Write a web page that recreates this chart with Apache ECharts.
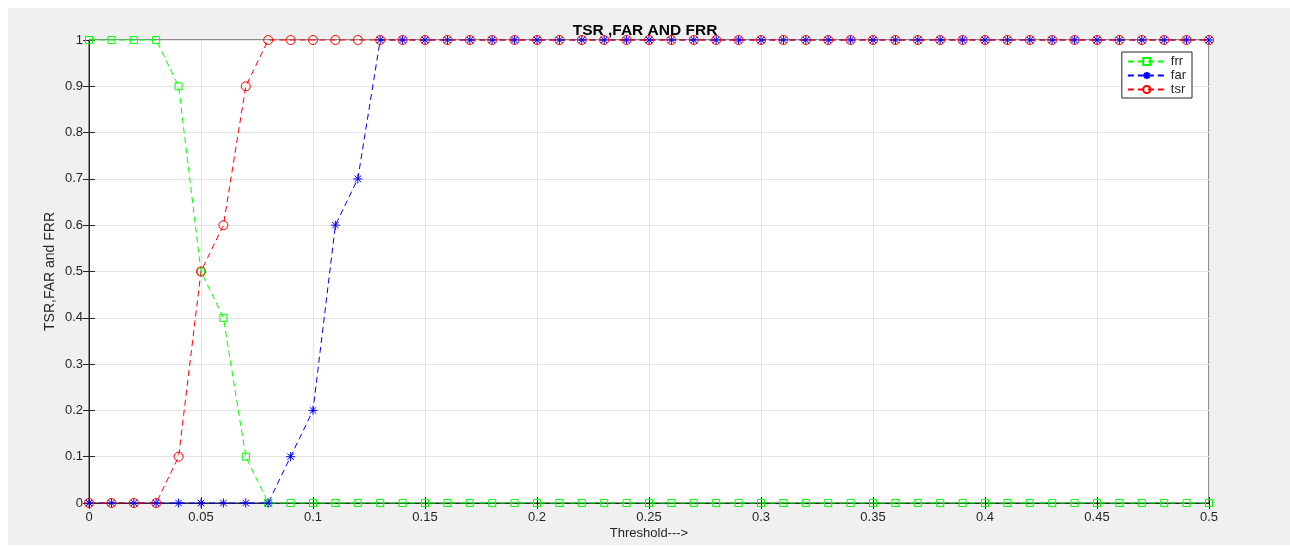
<!DOCTYPE html>
<html>
<head>
<meta charset="utf-8">
<script src="https://cdn.jsdelivr.net/npm/echarts@6/dist/echarts.min.js"></script>
<style>html,body{margin:0;padding:0;background:#fff}#c{width:1290px;height:547px}</style>
</head>
<body>
<div id="c"></div>
<script>
var thresholds = [0,0.01,0.02,0.03,0.04,0.05,0.06,0.07,0.08,0.09,0.1,0.11,0.12,0.13,0.14,0.15,0.16,0.17,0.18,0.19,0.2,0.21,0.22,0.23,0.24,0.25,0.26,0.27,0.28,0.29,0.3,0.31,0.32,0.33,0.34,0.35,0.36,0.37,0.38,0.39,0.4,0.41,0.42,0.43,0.44,0.45,0.46,0.47,0.48,0.49,0.5];
var frr = [1,1,1,1,0.9,0.5,0.4,0.1,0,0,0,0,0,0,0,0,0,0,0,0,0,0,0,0,0,0,0,0,0,0,0,0,0,0,0,0,0,0,0,0,0,0,0,0,0,0,0,0,0,0,0];
var far = [0,0,0,0,0,0,0,0,0,0.1,0.2,0.6,0.7,1,1,1,1,1,1,1,1,1,1,1,1,1,1,1,1,1,1,1,1,1,1,1,1,1,1,1,1,1,1,1,1,1,1,1,1,1,1];
var tsr = [0,0,0,0,0.1,0.5,0.6,0.9,1,1,1,1,1,1,1,1,1,1,1,1,1,1,1,1,1,1,1,1,1,1,1,1,1,1,1,1,1,1,1,1,1,1,1,1,1,1,1,1,1,1,1];
var seriesNames = ['frr','far','tsr'];
var titleText = 'TSR ,FAR AND FRR';
var xName = 'Threshold--->';
var yName = 'TSR,FAR and FRR';

function pairs(ys){ return thresholds.map(function(x,i){ return [x, ys[i]]; }); }
var fontFam = '"Liberation Sans", Arial, sans-serif';
var axisCol = '#262626';
var star = 'path://M0,-1L0,1M-1,0L1,0M-0.72,-0.72L0.72,0.72M-0.72,0.72L0.72,-0.72';

function mkSeries(name, data, color, symbol, size){
  return {
    name: name, type: 'line', data: pairs(data), clip: false,
    symbol: symbol, symbolSize: size, showAllSymbol: true,
    lineStyle: {color: color, width: 1, type: [6,4]},
    itemStyle: {color: 'rgba(0,0,0,0)', borderColor: color, borderWidth: 1},
    emphasis: {disabled: true}, animation: false
  };
}

var chart = echarts.init(document.getElementById('c'), null, {renderer: 'canvas'});
var fmt = function(v){ return String(parseFloat(v.toFixed(2))); };
chart.setOption({
  backgroundColor: '#ffffff',
  animation: false,
  graphic: [{type: 'rect', shape: {x: 8, y: 8, width: 1282, height: 537}, style: {fill: '#f0f0f0'}, z: -100, silent: true}],
  title: {text: titleText, left: 'center', top: 18,
    textStyle: {fontFamily: fontFam, fontSize: 15.5, fontWeight: 'bold', color: '#000'}},
  grid: {left: 89, right: 81, top: 40, bottom: 44, show: true, backgroundColor: '#fff', borderColor: axisCol, borderWidth: 1,
    containLabel: false, outerBoundsMode: 'none'},
  legend: {
    data: seriesNames, orient: 'vertical', right: 98, top: 52,
    itemWidth: 38, itemHeight: 9, itemGap: 1, padding: [3, 6, 2, 5],
    backgroundColor: '#fff', borderColor: axisCol, borderWidth: 1, borderRadius: 0,
    textStyle: {fontFamily: fontFam, fontSize: 13, color: axisCol}
  },
  xAxis: [{
    type: 'value', min: 0, max: 0.5, interval: 0.05,
    name: xName, nameLocation: 'middle', nameGap: 24, nameMoveOverlap: false,
    nameTextStyle: {fontFamily: fontFam, fontSize: 13, color: axisCol},
    axisLine: {show: true, onZero: false, lineStyle: {color: axisCol}},
    axisTick: {show: true, inside: true, length: 6, lineStyle: {color: axisCol}},
    axisLabel: {formatter: fmt, margin: 8, fontFamily: fontFam, fontSize: 13, color: axisCol},
    splitLine: {show: true, lineStyle: {color: '#e3e3e3'}}
  }, {
    type: 'value', min: 0, max: 0.5, interval: 0.05, position: 'top',
    axisLine: {show: true, lineStyle: {color: axisCol}},
    axisTick: {show: true, inside: true, length: 6, lineStyle: {color: axisCol}},
    axisLabel: {show: false}, splitLine: {show: false}
  }],
  yAxis: [{
    type: 'value', min: 0, max: 1, interval: 0.1,
    name: yName, nameLocation: 'middle', nameGap: 32, nameMoveOverlap: false,
    nameTextStyle: {fontFamily: fontFam, fontSize: 14, color: axisCol},
    axisLine: {show: true, onZero: false, lineStyle: {color: axisCol}},
    axisTick: {show: true, inside: true, length: 6, lineStyle: {color: axisCol}},
    axisLabel: {formatter: fmt, margin: 6, fontFamily: fontFam, fontSize: 13, color: axisCol},
    splitLine: {show: true, lineStyle: {color: '#e3e3e3'}}
  }, {
    type: 'value', min: 0, max: 1, interval: 0.1, position: 'right',
    axisLine: {show: true, lineStyle: {color: axisCol}},
    axisTick: {show: true, inside: true, length: 6, lineStyle: {color: axisCol}},
    axisLabel: {show: false}, splitLine: {show: false}
  }],
  series: [
    mkSeries('frr', frr, '#00ff00', 'rect', 7),
    mkSeries('far', far, '#0000ff', star, 9),
    mkSeries('tsr', tsr, '#ff0000', 'circle', 9)
  ]
});
</script>
</body>
</html>
